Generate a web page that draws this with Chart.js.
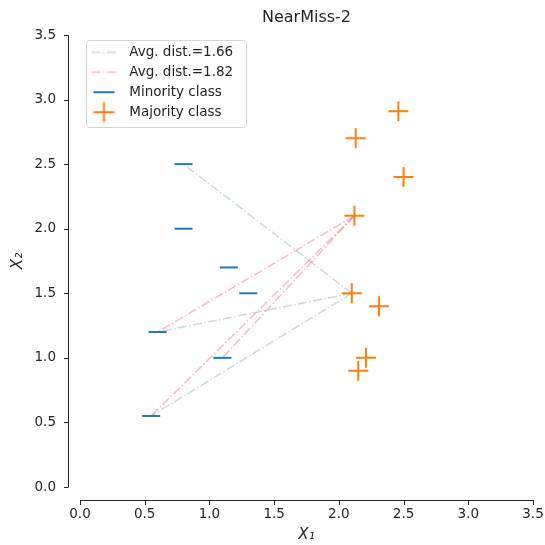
<!DOCTYPE html>
<html>
<head>
<meta charset="utf-8">
<script src="https://cdn.jsdelivr.net/npm/chart.js@4/dist/chart.umd.min.js"></script>
<style>
  html, body { margin: 0; padding: 0; background: #fff; }
  #wrap { width: 545px; height: 545px; }
</style>
</head>
<body>
<div id="wrap"><canvas id="chart" width="545" height="545"></canvas></div>
<script>
const minorityX = [0.8, 0.8, 1.15, 1.3, 0.6, 1.1, 0.55];
const minorityY = [2.5, 2.0, 1.7, 1.5, 1.2, 1.0, 0.55];
const majorityX = [2.46, 2.13, 2.5, 2.12, 2.1, 2.31, 2.21, 2.15];
const majorityY = [2.91, 2.7, 2.4, 2.1, 1.5, 1.4, 1.0, 0.9];

// selected majority sample and the minority samples it is measured against
const distLabels = ["Avg. dist.=1.66", "Avg. dist.=1.82"];
const distFrom = [4, 3];
const distTo = [[0, 4, 6], [4, 5, 6]];
const distColors = ["rgba(100,150,145,0.35)", "rgba(235,60,85,0.35)"];

const tickValues = [0, 0.5, 1, 1.5, 2, 2.5, 3, 3.5];
const tickLabels = ["0.0", "0.5", "1.0", "1.5", "2.0", "2.5", "3.0", "3.5"];

const BLUE = "#1f77b4";
const ORANGE = "#ff7f0e";
const INK = "#262626";
const FONT = "'DejaVu Sans', sans-serif";
const DASHDOT = [9, 2.4, 1.5, 2.4];
const LEGEND_FONT = 13.5;
const LEGEND_PAD = 6.5;

function markerImage(kind, color) {
  const c = document.createElement("canvas");
  c.width = 36;
  c.height = 24;
  const ctx = c.getContext("2d");
  ctx.strokeStyle = color;
  ctx.beginPath();
  if (kind === "dash") {
    ctx.lineWidth = 1.5;
    ctx.setLineDash(DASHDOT);
    ctx.moveTo(5, 12);
    ctx.lineTo(30, 12);
  } else if (kind === "line") {
    ctx.lineWidth = 2;
    ctx.moveTo(7, 12);
    ctx.lineTo(28, 12);
  } else {
    ctx.lineWidth = 2;
    ctx.moveTo(7, 12);
    ctx.lineTo(28, 12);
    ctx.moveTo(17.5, 2);
    ctx.lineTo(17.5, 22);
  }
  ctx.stroke();
  return c;
}

const datasets = [];

datasets.push({
  label: "Minority class",
  data: minorityX.map((x, i) => ({ x: x, y: minorityY[i] })),
  pointStyle: "line",
  pointRadius: 9,
  pointHoverRadius: 9,
  pointBorderWidth: 2,
  borderColor: BLUE,
  backgroundColor: BLUE,
  order: 0
});

datasets.push({
  label: "Majority class",
  data: majorityX.map((x, i) => ({ x: x, y: majorityY[i] })),
  pointStyle: "cross",
  pointRadius: 10,
  pointHoverRadius: 10,
  pointBorderWidth: 2,
  borderColor: ORANGE,
  backgroundColor: ORANGE,
  order: 0
});

distFrom.forEach((from, g) => {
  distTo[g].forEach((to) => {
    datasets.push({
      label: distLabels[g],
      data: [
        { x: majorityX[from], y: majorityY[from] },
        { x: minorityX[to], y: minorityY[to] }
      ],
      showLine: true,
      pointRadius: 0,
      borderWidth: 1.5,
      borderDash: DASHDOT,
      borderColor: distColors[g],
      order: 1
    });
  });
});

const legendItems = [
  { text: distLabels[0], pointStyle: markerImage("dash", distColors[0]) },
  { text: distLabels[1], pointStyle: markerImage("dash", distColors[1]) },
  { text: "Minority class", pointStyle: markerImage("line", BLUE) },
  { text: "Majority class", pointStyle: markerImage("cross", ORANGE) }
];

const spines = {
  id: "spines",
  beforeDraw(chart) {
    chart.legend.top = chart.chartArea.top + 4;
  },
  afterDraw(chart) {
    const ctx = chart.ctx;
    const xs = chart.scales.x;
    const ys = chart.scales.y;
    const area = chart.chartArea;
    const sx = area.left - 12;
    const sy = area.bottom + 13;
    ctx.save();
    ctx.strokeStyle = INK;
    ctx.lineWidth = 1;
    ctx.beginPath();
    ctx.moveTo(sx + 0.5, ys.getPixelForValue(tickValues[0]));
    ctx.lineTo(sx + 0.5, ys.getPixelForValue(tickValues[tickValues.length - 1]));
    ctx.moveTo(xs.getPixelForValue(tickValues[0]), sy + 0.5);
    ctx.lineTo(xs.getPixelForValue(tickValues[tickValues.length - 1]), sy + 0.5);
    tickValues.forEach((v) => {
      const py = Math.round(ys.getPixelForValue(v)) + 0.5;
      ctx.moveTo(sx - 4, py);
      ctx.lineTo(sx + 0.5, py);
      const px = Math.round(xs.getPixelForValue(v)) + 0.5;
      ctx.moveTo(px, sy);
      ctx.lineTo(px, sy + 5);
    });
    ctx.stroke();

    // legend frame
    const lg = chart.legend;
    const boxes = lg.legendHitBoxes || [];
    let w = 0;
    boxes.forEach((b) => { w = Math.max(w, b.width); });
    const firstCenter = lg.top + LEGEND_PAD + LEGEND_FONT / 2;
    const top = Math.round(firstCenter - 12);
    const left = lg.left + 6;
    const right = Math.round(lg.left + 8 + w + 11);
    const bottom = Math.round(firstCenter + 3 * (LEGEND_FONT + LEGEND_PAD) + 15);
    ctx.strokeStyle = "#d5d5d5";
    ctx.beginPath();
    ctx.roundRect(left + 0.5, top + 0.5, right - left, bottom - top, 3);
    ctx.stroke();
    ctx.restore();
  }
};

new Chart(document.getElementById("chart"), {
  type: "scatter",
  data: { datasets: datasets },
  plugins: [spines],
  options: {
    responsive: false,
    animation: false,
    events: [],
    layout: { padding: { left: 0, right: 11, top: 0, bottom: 0 } },
    plugins: {
      title: {
        display: true,
        text: "NearMiss-2",
        fullSize: false,
        color: INK,
        font: { family: FONT, size: 16, weight: "normal" },
        padding: { top: 8, bottom: 7.8 }
      },
      legend: {
        position: "chartArea",
        align: "start",
        labels: {
          usePointStyle: true,
          pointStyleWidth: 36,
          padding: LEGEND_PAD,
          color: INK,
          font: { family: FONT, size: LEGEND_FONT },
          generateLabels: () => legendItems.map((it) => ({
            text: it.text,
            pointStyle: it.pointStyle,
            fontColor: INK,
            hidden: false,
            lineWidth: 0
          }))
        }
      },
      tooltip: { enabled: false }
    },
    scales: {
      x: {
        type: "linear",
        min: 0,
        max: 3.5,
        afterBuildTicks: (s) => { s.ticks = tickValues.map((v) => ({ value: v })); },
        afterFit: (s) => { s.height = 58; },
        grid: { display: false, drawTicks: true, tickLength: 19 },
        border: { display: false },
        ticks: {
          padding: 0,
          color: INK,
          font: { family: FONT, size: 13.5 },
          maxRotation: 0,
          callback: (v) => tickLabels[tickValues.indexOf(v)]
        },
        title: {
          display: true,
          text: "X\u2081",
          color: INK,
          font: { family: FONT, size: 15, style: "italic" },
          padding: { top: 0, bottom: 1 }
        }
      },
      y: {
        type: "linear",
        min: 0,
        max: 3.5,
        afterBuildTicks: (s) => { s.ticks = tickValues.map((v) => ({ value: v })); },
        afterFit: (s) => { s.width = 80; },
        grid: { display: false, drawTicks: true, tickLength: 22 },
        border: { display: false },
        ticks: {
          padding: 2,
          color: INK,
          font: { family: FONT, size: 13.5 },
          callback: (v) => tickLabels[tickValues.indexOf(v)]
        },
        title: {
          display: true,
          text: "X\u2082",
          color: INK,
          font: { family: FONT, size: 15, style: "italic" },
          padding: { top: 9, bottom: 0 }
        }
      }
    }
  }
});
</script>
</body>
</html>
